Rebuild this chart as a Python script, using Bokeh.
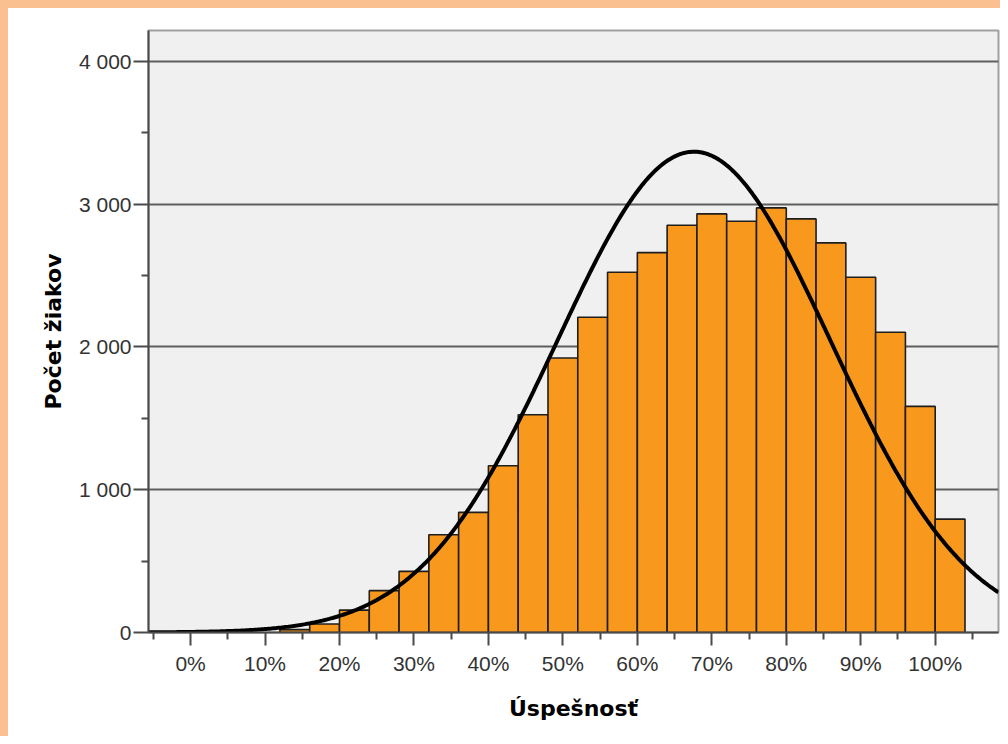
import numpy as np
from bokeh.plotting import figure
from bokeh.models import FixedTicker, InlineStyleSheet
from bokeh.embed import file_html
from bokeh.resources import INLINE

# ---- data ----
bin_left = [12, 16, 20, 24, 28, 32, 36, 40, 44, 48, 52, 56, 60, 64, 68, 72,
            76, 80, 84, 88, 92, 96, 100]
bin_width = 4
counts = [20, 60, 157, 293, 428, 684, 841, 1168, 1525, 1922, 2207, 2522, 2660,
          2851, 2931, 2879, 2973, 2896, 2728, 2487, 2102, 1583, 794]

# normal curve parameters (SPSS normal overlay)
curve_mean = 67.6
curve_sd = 18.35
curve_n = 38710

x_ticks = [0, 10, 20, 30, 40, 50, 60, 70, 80, 90, 100]
x_tick_labels = ["0%", "10%", "20%", "30%", "40%", "50%", "60%", "70%", "80%", "90%", "100%"]
x_minor = [-5, 5, 15, 25, 35, 45, 55, 65, 75, 85, 95, 105]
y_ticks = [0, 1000, 2000, 3000, 4000]
y_tick_labels = ["0", "1 000", "2 000", "3 000", "4 000"]
y_minor = [500, 1500, 2500, 3500]

x_title = "Úspešnosť"
y_title = "Počet žiakov"

X_START, X_END = -5.65, 108.5
Y_START, Y_END = 0, 4215

p = figure(width=1000, height=736, x_range=(X_START, X_END), y_range=(Y_START, Y_END),
           output_backend="svg", toolbar_location=None,
           min_border_left=148, min_border_right=2, min_border_top=30, min_border_bottom=104)

p.background_fill_color = "#f0f0f0"
p.border_fill_color = "white"
p.outline_line_color = "#a0a0a0"
p.outline_line_width = 2

# grid
p.xgrid.visible = False
p.ygrid.ticker = FixedTicker(ticks=y_ticks)
p.ygrid.grid_line_color = "#5e5e5e"
p.ygrid.grid_line_width = 1.8

# bars
lefts = bin_left
rights = [b + bin_width for b in bin_left]
p.quad(left=lefts, right=rights, bottom=0, top=counts,
       fill_color="#f8991d", line_color="#1e1e1e", line_width=1.6)

# normal curve
xs = np.linspace(X_START, X_END, 500)
scale = curve_n * bin_width / (curve_sd * np.sqrt(2 * np.pi))
ys = scale * np.exp(-0.5 * ((xs - curve_mean) / curve_sd) ** 2)
p.line(xs, ys, line_color="black", line_width=4)

tick_font = "Liberation Sans"
title_font = "DejaVu Sans"

# x axis
xa = p.xaxis[0]
xa.ticker = FixedTicker(ticks=x_ticks, minor_ticks=x_minor)
xa.major_label_overrides = {t: l for t, l in zip(x_ticks, x_tick_labels)}
xa.axis_line_color = "#4a4a4a"
xa.axis_line_width = 2
xa.major_tick_line_color = "#4a4a4a"
xa.major_tick_line_width = 2
xa.major_tick_out = 13
xa.major_tick_in = 0
xa.minor_tick_line_color = "#4a4a4a"
xa.minor_tick_line_width = 2
xa.minor_tick_out = 7
xa.minor_tick_in = 0
xa.major_label_text_font = tick_font
xa.major_label_text_font_size = "21px"
xa.major_label_text_color = "#333333"
xa.major_label_standoff = 6
xa.axis_label = x_title
xa.axis_label_text_font = title_font
xa.axis_label_text_font_style = "bold"
xa.axis_label_text_font_size = "22px"
xa.axis_label_text_color = "black"
xa.axis_label_standoff = 18

# y axis
ya = p.yaxis[0]
ya.ticker = FixedTicker(ticks=y_ticks, minor_ticks=y_minor)
ya.major_label_overrides = {t: l for t, l in zip(y_ticks, y_tick_labels)}
ya.axis_line_color = "#4a4a4a"
ya.axis_line_width = 2
ya.major_tick_line_color = "#4a4a4a"
ya.major_tick_line_width = 2
ya.major_tick_out = 15
ya.major_tick_in = 0
ya.minor_tick_line_color = "#4a4a4a"
ya.minor_tick_line_width = 2
ya.minor_tick_out = 7
ya.minor_tick_in = 0
ya.major_label_text_font = tick_font
ya.major_label_text_font_size = "21px"
ya.major_label_text_color = "#333333"
ya.major_label_standoff = 2
ya.axis_label = y_title
ya.axis_label_text_font = title_font
ya.axis_label_text_font_style = "bold"
ya.axis_label_text_font_size = "22px"
ya.axis_label_text_color = "black"
ya.axis_label_standoff = 10

# orange page frame strips on the left and top edges (CSS overlay)
p.stylesheets = [InlineStyleSheet(css="""
:host { position: relative; }
:host::before { content: ""; position: absolute; left: 0; top: 0; width: 8px; height: 100%;
                background: #fac090; z-index: 1000; pointer-events: none; }
:host::after { content: ""; position: absolute; left: 0; top: 0; width: 100%; height: 8px;
               background: #fac090; z-index: 1000; pointer-events: none; }
""")]

open("out.html", "w").write(file_html(p, INLINE))
